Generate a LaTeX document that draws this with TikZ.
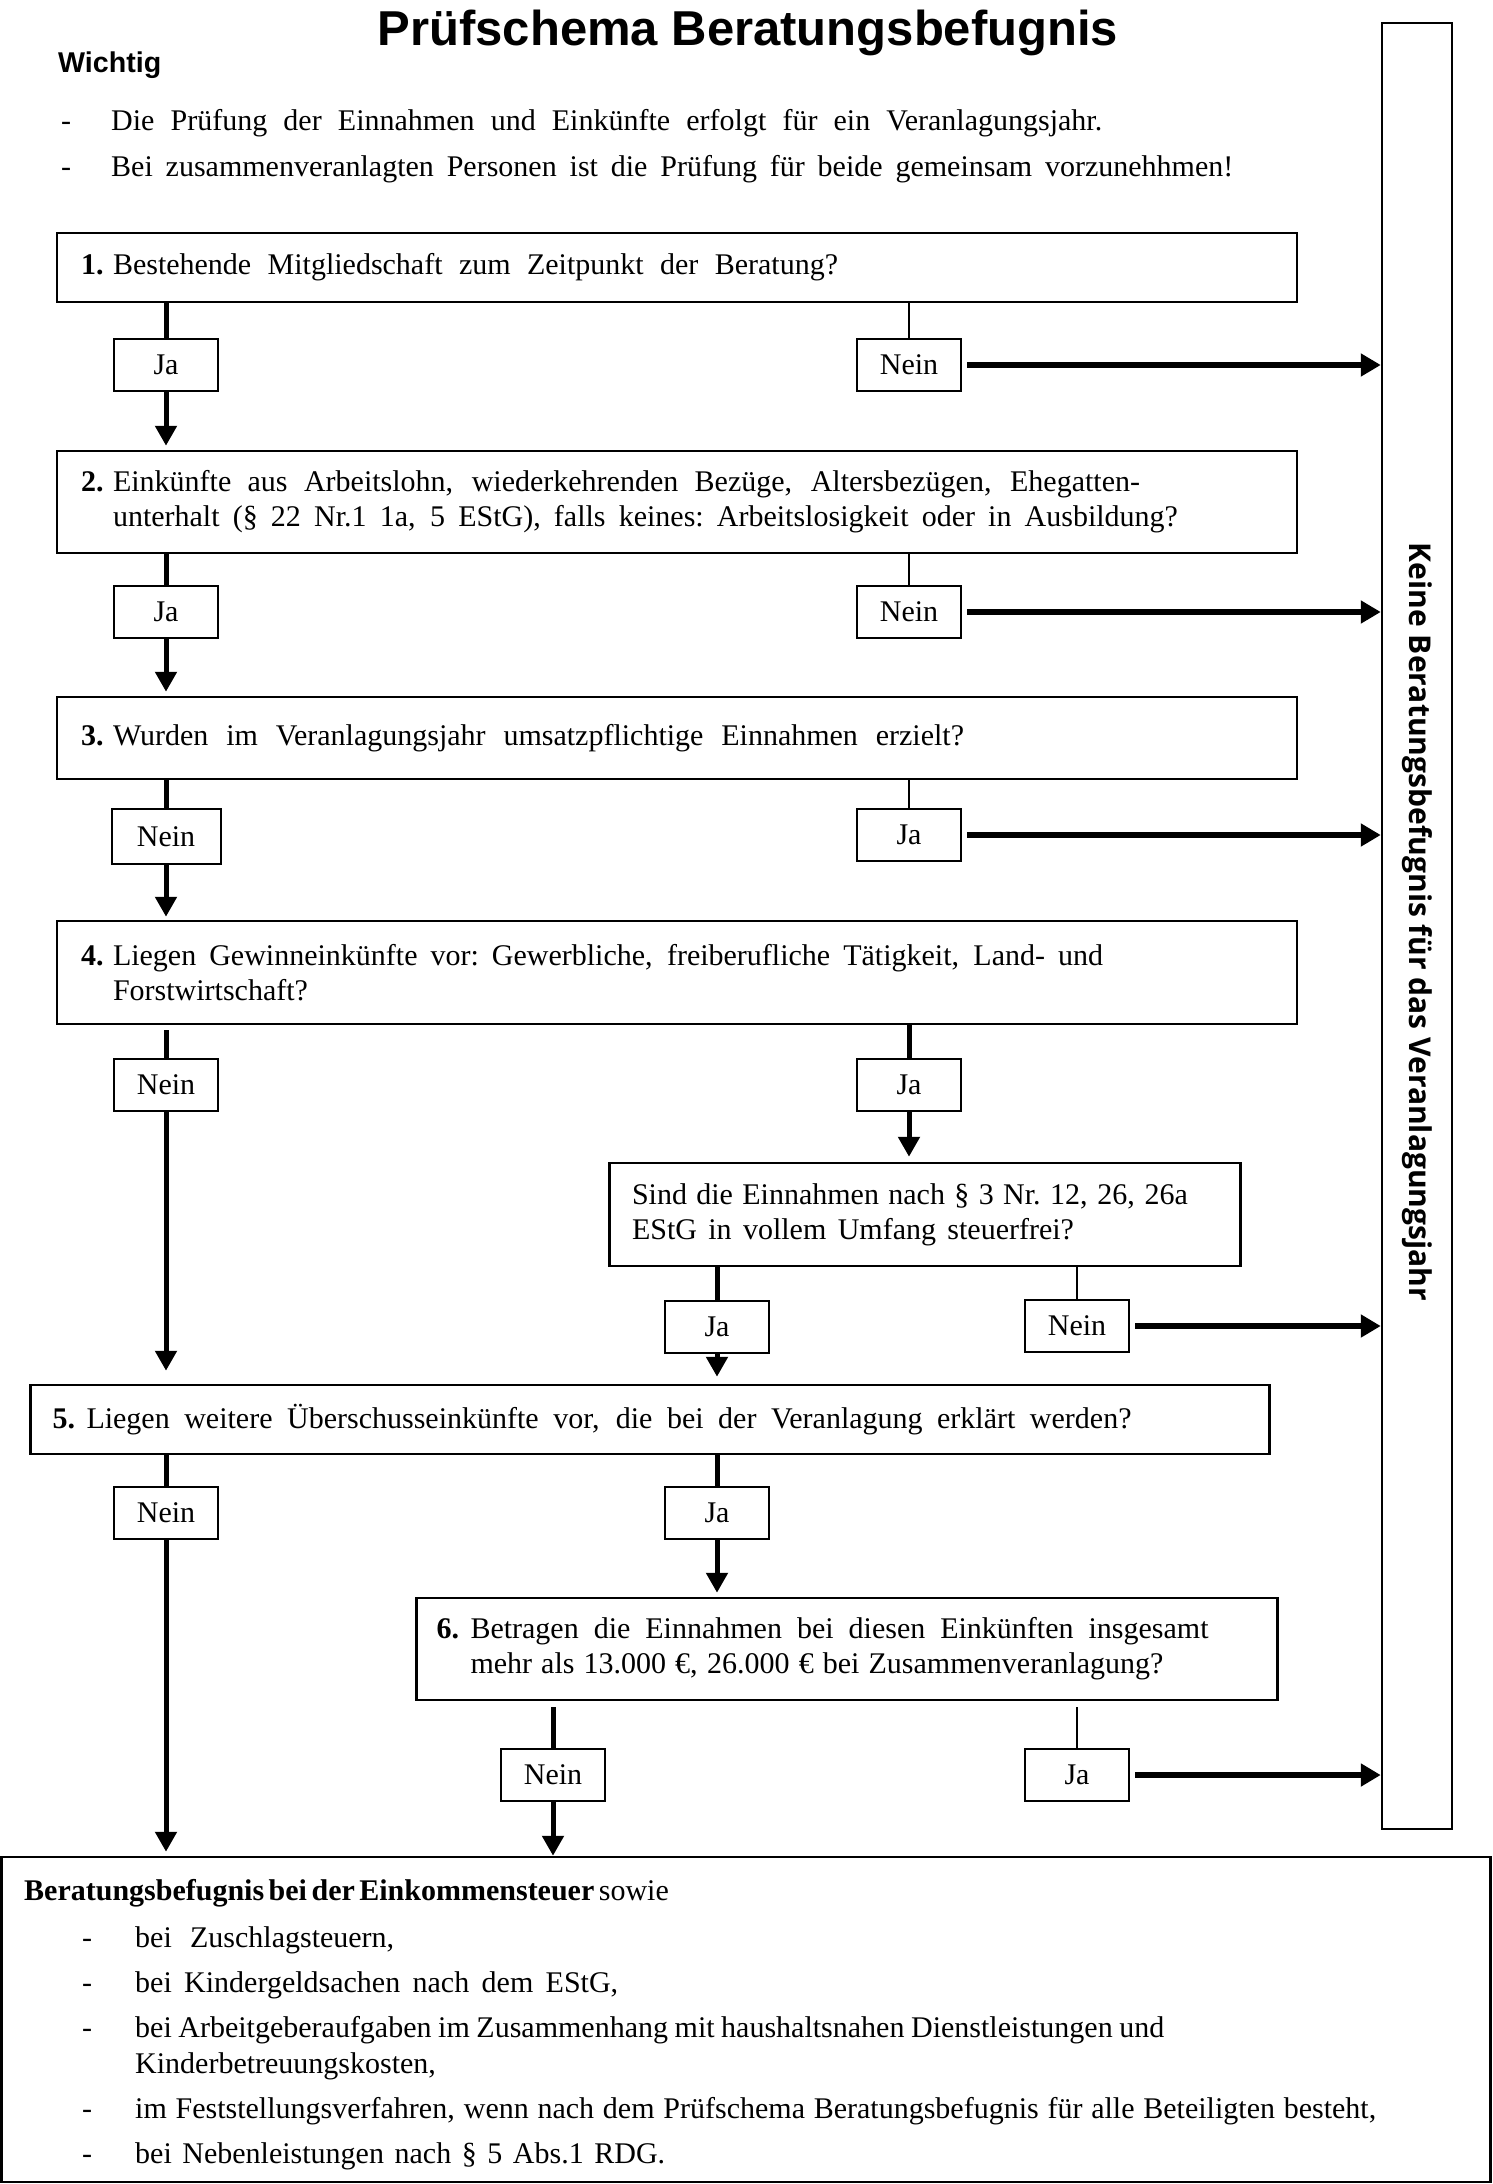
\documentclass[tikz,border=0pt]{standalone}
\usepackage{fontspec}
\setmainfont{Liberation Serif}
\newfontfamily\titlefont{Liberation Sans}
\newfontfamily\vfont{Open Sans}
\usetikzlibrary{arrows.meta}
\newcommand{\mainsize}{\fontsize{30}{35}\selectfont}
\newcommand{\fitline}[2]{\makebox[#1][s]{\spaceskip=7.5pt plus 30pt minus 3pt\relax\xspaceskip=\spaceskip #2}}
\newcommand{\qnum}[2]{\makebox[#1][l]{\textbf{#2}}}
\begin{document}
\begin{tikzpicture}[x=1pt,y=-1pt,
  qbox/.style={draw, line width=2.5pt, rectangle, align=left, inner xsep=24pt, inner ysep=0pt, font=\mainsize},
  lab/.style={draw, line width=2pt, minimum width=104pt, minimum height=52pt, inner sep=0pt, font=\mainsize},
  conthick/.style={line width=5pt},
  conthin/.style={line width=2pt},
  arrv/.style={line width=5pt, -{Triangle[length=20pt,width=21pt]}},
  arrh/.style={line width=5.5pt, -{Triangle[length=20pt,width=22pt]}, shorten <=5pt},
  txt/.style={anchor=base west, inner sep=0pt, font=\mainsize}
]
\useasboundingbox (0,0) rectangle (1492,2184);

% header
\node[anchor=base, inner sep=0pt, font=\titlefont\bfseries\fontsize{49}{52}\selectfont] (title) at (748,46) {Prüfschema Beratungsbefugnis};
\node[anchor=base west, inner sep=0pt, font=\titlefont\bfseries\fontsize{28.6}{30}\selectfont] (wichtig) at (58,73) {Wichtig};
\node[txt] (hd1) at (61,130) {-};
\node[txt] (h1) at (111,130) {\fitline{991pt}{Die Prüfung der Einnahmen und Einkünfte erfolgt für ein Veranlagungsjahr.}};
\node[txt] (hd2) at (61,176) {-};
\node[txt] (h2) at (111,176) {\fitline{1122pt}{Bei zusammenveranlagten Personen ist die Prüfung für beide gemeinsam vorzunehhmen!}};

% right box
\node[draw, line width=2.5pt, minimum width=70pt, minimum height=1806pt, inner sep=0pt] (rbox) at (1417,926) {};
\node[rotate=-90, inner sep=0pt, font=\vfont\bfseries\fontsize{30}{30}\selectfont] (vt) at (1417,922) {Keine Beratungsbefugnis für das Veranlagungsjahr};

% question boxes
\node[qbox, text width=1192pt, minimum height=69pt] (b1) at (677,267.5) {\qnum{32pt}{1.}\fitline{725pt}{Bestehende Mitgliedschaft zum Zeitpunkt der Beratung?}};
\node[qbox, text width=1192pt, minimum height=102pt] (b2) at (677,502) {\qnum{32pt}{2.}\fitline{1027pt}{Einkünfte aus Arbeitslohn, wiederkehrenden Bezüge, Altersbezügen, Ehegatten-}\\\hspace*{32pt}\fitline{1065pt}{unterhalt (§ 22 Nr.1 1a, 5 EStG), falls keines: Arbeitslosigkeit oder in Ausbildung?}};
\node[qbox, text width=1192pt, minimum height=82pt] (b3) at (677,738) {\qnum{32pt}{3.}\fitline{851pt}{Wurden im Veranlagungsjahr umsatzpflichtige Einnahmen erzielt?}};
\node[qbox, text width=1192pt, minimum height=103pt] (b4) at (677,972.5) {\qnum{32pt}{4.}\fitline{990pt}{Liegen Gewinneinkünfte vor: Gewerbliche, freiberufliche Tätigkeit, Land- und}\\\hspace*{32pt}Forstwirtschaft?};
\node[qbox, inner xsep=22.5pt, text width=586pt, minimum height=103pt] (bs) at (925,1214.5) {\fitline{556pt}{Sind die Einnahmen nach § 3 Nr. 12, 26, 26a}\\\fitline{442pt}{EStG in vollem Umfang steuerfrei?}};
\node[qbox, inner xsep=22pt, text width=1195pt, minimum height=69pt] (b5) at (650,1419.5) {\qnum{34pt}{5.}\fitline{1045pt}{Liegen weitere Überschusseinkünfte vor, die bei der Veranlagung erklärt werden?}};
\node[qbox, inner xsep=20pt, text width=821pt, minimum height=102pt] (b6) at (847,1649) {\qnum{34pt}{6.}\fitline{738pt}{Betragen die Einnahmen bei diesen Einkünften insgesamt}\\\hspace*{34pt}\fitline{693pt}{mehr als 13.000 €, 26.000 € bei Zusammenveranlagung?}};

% bottom box
\node[draw, line width=2.5pt, minimum width=1489pt, minimum height=325pt, inner sep=0pt] (bb) at (746,2019.5) {};
\node[txt] (r0) at (24,1900) {\fitline{635pt}{\textbf{Beratungsbefugnis bei der Einkommensteuer} sowie}};
\node[txt] (rd1) at (82,1947) {-};
\node[txt] (r1) at (135,1947) {\fitline{259pt}{bei Zuschlagsteuern,}};
\node[txt] (rd2) at (82,1992) {-};
\node[txt] (r2) at (135,1992) {\fitline{483pt}{bei Kindergeldsachen nach dem EStG,}};
\node[txt] (rd3) at (82,2037) {-};
\node[txt] (r3) at (135,2037) {\fitline{1029pt}{bei Arbeitgeberaufgaben im Zusammenhang mit haushaltsnahen Dienstleistungen und}};
\node[txt] (r3b) at (135,2073) {Kinderbetreuungskosten,};
\node[txt] (rd4) at (82,2118) {-};
\node[txt] (r4) at (135,2118) {\fitline{1241pt}{im Feststellungsverfahren, wenn nach dem Prüfschema Beratungsbefugnis für alle Beteiligten besteht,}};
\node[txt] (rd5) at (82,2163) {-};
\node[txt] (r5) at (135,2163) {\fitline{530pt}{bei Nebenleistungen nach § 5 Abs.1 RDG.}};

% answer labels
\node[lab] (j1) at (166,365) {Ja};
\node[lab] (n1) at (909,365) {Nein};
\node[lab] (j2) at (166,612) {Ja};
\node[lab] (n2) at (909,612) {Nein};
\node[lab, minimum width=109pt, minimum height=55pt] (n3) at (166,836.5) {Nein};
\node[lab] (j3) at (909,835) {Ja};
\node[lab] (n4) at (166,1085) {Nein};
\node[lab] (j4) at (909,1085) {Ja};
\node[lab] (j5) at (717,1326.5) {Ja};
\node[lab] (n5) at (1077,1326) {Nein};
\node[lab] (n6) at (166,1513) {Nein};
\node[lab] (j6) at (717,1513) {Ja};
\node[lab] (n7) at (553,1775) {Nein};
\node[lab] (j7) at (1077,1775) {Ja};

% connectors box -> labels
\draw[conthick] (b1.south -| j1) -- (j1.north);
\draw[conthin] (b1.south -| n1) -- (n1.north);
\draw[conthick] (b2.south -| j2) -- (j2.north);
\draw[conthin] (b2.south -| n2) -- (n2.north);
\draw[conthick] (b3.south -| n3) -- (n3.north);
\draw[conthin] (b3.south -| j3) -- (j3.north);
\draw[conthick, shorten <=5pt] (b4.south -| n4) -- (n4.north);
\draw[conthick] (b4.south -| j4) -- (j4.north);
\draw[conthick] (bs.south -| j5) -- (j5.north);
\draw[conthin] (bs.south -| n5) -- (n5.north);
\draw[conthick] (b5.south -| n6) -- (n6.north);
\draw[conthick] (b5.south -| j6) -- (j6.north);
\draw[conthick, shorten <=6pt] (b6.south -| n7) -- (n7.north);
\draw[conthin, shorten <=6pt] (b6.south -| j7) -- (j7.north);

% arrows down
\draw[arrv, shorten >=4pt] (j1.south) -- (j1.south |- b2.north);
\draw[arrv, shorten >=4pt] (j2.south) -- (j2.south |- b3.north);
\draw[arrv, shorten >=3pt] (n3.south) -- (n3.south |- b4.north);
\draw[arrv, shorten >=5pt] (j4.south) -- (j4.south |- bs.north);
\draw[arrv, shorten >=13pt] (n4.south) -- (n4.south |- b5.north);
\draw[arrv, shorten >=7pt] (j5.south) -- (j5.south |- b5.north);
\draw[arrv, shorten >=4pt] (j6.south) -- (j6.south |- b6.north);
\draw[arrv, shorten >=4pt] (n6.south) -- (n6.south |- bb.north);
\draw[arrv] (n7.south) -- (n7.south |- bb.north);

% arrows right
\draw[arrh] (n1.east) -- (n1.east -| rbox.west);
\draw[arrh] (n2.east) -- (n2.east -| rbox.west);
\draw[arrh] (j3.east) -- (j3.east -| rbox.west);
\draw[arrh] (n5.east) -- (n5.east -| rbox.west);
\draw[arrh] (j7.east) -- (j7.east -| rbox.west);
\end{tikzpicture}
\end{document}
